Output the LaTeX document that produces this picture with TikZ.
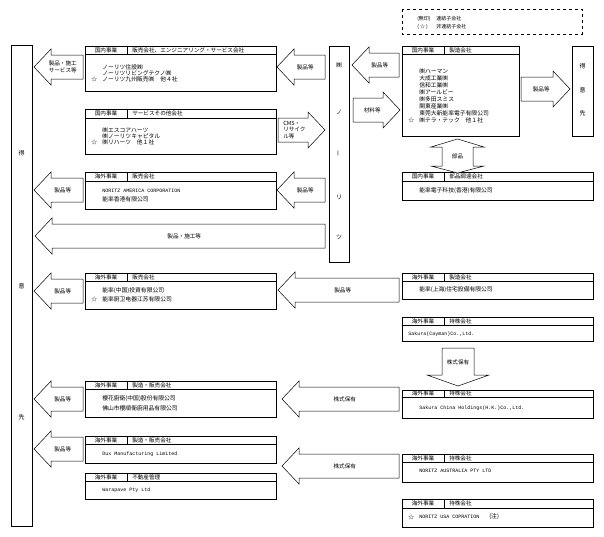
\documentclass[tikz,border=0pt]{standalone}
\usepackage{fontspec}
\setmainfont{Liberation Serif}
\newfontfamily\jp{Noto Sans CJK JP}
\newfontfamily\en{Liberation Mono}
\usetikzlibrary{positioning}

\tikzset{
  frame/.style={draw,line width=0.5pt},
  hdr/.style={font=\jp\fontsize{5.6}{6}\selectfont,inner sep=0pt,anchor=west},
  txt/.style={font=\jp\fontsize{5.8}{6}\selectfont,inner sep=0pt,anchor=west},
  etxt/.style={font=\en\fontsize{5}{6}\selectfont,inner sep=0pt,anchor=west},
  ltxt/.style={font=\jp\fontsize{5}{6}\selectfont,inner sep=0pt,anchor=west},
  barrow/.style={draw,line width=0.5pt,fill=white},
  alabel/.style={font=\jp\fontsize{5.6}{6.8}\selectfont,inner sep=0pt,align=center},
  bartxt/.style={font=\jp\fontsize{6}{7}\selectfont,inner sep=0pt}
}

% box with a two-part header
\newcommand{\bizbox}[9]{%
  \draw[frame] (#2,#3) rectangle (#4,#6);
  \draw[frame] (#2,#5) -- (#4,#5) (#7,#3) -- (#7,#5);
  \node[hdr,anchor=center] (#1-a) at ({(#2+#7)/2},{(#3+#5)/2}) {#8};
  \node[hdr] (#1-b) at (#7+5,{(#3+#5)/2}) {#9};
}
% hollow block arrow: tip x, tail x, y, name, label
\newcommand{\harr}[5]{%
  \pgfmathsetmacro\hb{#1+17*sign(#2-#1)}
  \draw[barrow] (#1,#3) -- (\hb,#3-18) -- (\hb,#3-12) -- (#2,#3-12)
    -- (#2,#3+12) -- (\hb,#3+12) -- (\hb,#3+18) -- cycle;
  \node[alabel] (#4) at ({(#1+#2)/2+0.25*(\hb-#1)},#3) {#5};
}

\begin{document}
\begin{tikzpicture}[x=1pt,y=-1pt,line width=0.5pt]
\useasboundingbox (0,0) rectangle (604,536);

% legend
\draw[dashed,line width=0.4pt] (402,9) rectangle (582,34);
\node[ltxt] (lg1) at (417,19) {(無印)};
\node[ltxt] (lg2) at (436,19) {連結子会社};
\node[ltxt] (lg3) at (417,27) {(\ ☆\ )};
\node[ltxt] (lg4) at (436,27) {非連結子会社};

% customers and parent
\draw[frame] (11,45) rectangle (32,526);
\node[bartxt] (c1) at (21.5,153) {得};
\node[bartxt] (c2) at (21.5,286) {意};
\node[bartxt] (c3) at (21.5,417) {先};
\draw[frame] (329,46) rectangle (349,262);
\node[bartxt] (p1) at (339,65) {㈱};
\node[bartxt] (p2) at (339,112) {ノ};
\node[bartxt,rotate=90] (p3) at (339,153) {ー};
\node[bartxt] (p4) at (339,197) {リ};
\node[bartxt] (p5) at (339,237) {ツ};
\draw[frame] (572,46) rectangle (593,136);
\node[bartxt] (d1) at (582.5,66) {得};
\node[bartxt] (d2) at (582.5,90) {意};
\node[bartxt] (d3) at (582.5,113) {先};

% left column
\bizbox{b1}{85}{46}{276}{54}{91}{127}{国内事業}{販売会社、エンジニアリング・サービス会社}
\node[txt] (b1-1) at (102,67) {ノーリツ住設㈱};
\node[txt] (b1-2) at (102,73) {ノーリツリビングテクノ㈱};
\node[txt] (b1-3) at (102,79) {ノーリツ九州販売㈱　他４社};
\node[txt] (b1-s) at (91,79) {☆};

\bizbox{b2}{85}{109}{276}{118}{154}{127}{国内事業}{サービスその他会社}
\node[txt] (b2-1) at (102,130) {㈱エスコアハーツ};
\node[txt] (b2-2) at (102,136) {㈱ノーリツキャピタル};
\node[txt] (b2-3) at (102,142) {㈱リハーツ　他１社};
\node[txt] (b2-s) at (91,142) {☆};

\bizbox{b3}{85}{172}{276}{181}{209}{127}{海外事業}{販売会社}
\node[etxt] (b3-1) at (102,191) {NORITZ AMERICA CORPORATION};
\node[txt] (b3-2) at (102,199) {能率香港有限公司};

\bizbox{b4}{85}{273}{276}{281}{309}{127}{海外事業}{販売会社}
\node[txt] (b4-1) at (102,291) {能率(中国)投資有限公司};
\node[txt] (b4-2) at (102,299) {能率厨卫电器江苏有限公司};
\node[txt] (b4-s) at (91,299) {☆};

\bizbox{b5}{85}{381}{276}{389}{417}{127}{海外事業}{製造・販売会社}
\node[txt] (b5-1) at (102,399) {櫻花廚衛(中国)股份有限公司};
\node[txt] (b5-2) at (102,408) {佛山市櫻順衛廚用品有限公司};

\bizbox{b6}{85}{436}{276}{444}{463}{127}{海外事業}{製造・販売会社}
\node[etxt] (b6-1) at (102,454) {Dux Manufacturing Limited};

\bizbox{b7}{85}{473}{276}{481}{499}{127}{海外事業}{不動産管理}
\node[etxt] (b7-1) at (102,490) {Warapave Pty Ltd};

% right column
\bizbox{r1}{402}{46}{519}{54}{136}{444}{国内事業}{製造会社}
\node[txt] (r1-1) at (419,71) {㈱ハーマン};
\node[txt] (r1-2) at (419,78) {大成工業㈱};
\node[txt] (r1-3) at (419,85) {信和工業㈱};
\node[txt] (r1-4) at (419,92) {㈱アールビー};
\node[txt] (r1-5) at (419,99) {㈱多田スミス};
\node[txt] (r1-6) at (419,106) {関東産業㈱};
\node[txt] (r1-7) at (419,113) {東莞大新能率電子有限公司};
\node[txt] (r1-8) at (419,120) {㈱テラ・テック　他１社};
\node[txt] (r1-s) at (408,120) {☆};

\bizbox{r2}{402}{172}{593}{181}{200}{444}{国内事業}{部品調達会社}
\node[txt] (r2-1) at (419,191) {能率電子科技(香港)有限公司};

\bizbox{r3}{402}{273}{593}{281}{299}{444}{海外事業}{製造会社}
\node[txt] (r3-1) at (419,290) {能率(上海)住宅設備有限公司};

\bizbox{r4}{402}{317}{593}{325}{341}{444}{海外事業}{持株会社}
\node[etxt] (r4-1) at (408,334) {Sakura(Cayman)Co.,Ltd.};

\bizbox{r5}{402}{390}{593}{397}{418}{444}{海外事業}{持株会社}
\node[etxt] (r5-1) at (419,408) {Sakura China Holdings(H.K.)Co.,Ltd.};

\bizbox{r6}{402}{454}{593}{462}{482}{444}{海外事業}{持株会社}
\node[etxt] (r6-1) at (419,471) {NORITZ AUSTRALIA PTY LTD};

\bizbox{r7}{402}{499}{593}{508}{527}{444}{海外事業}{持株会社}
\node[txt] (r7-s) at (408,517) {☆};
\node[etxt] (r7-1) at (419,517) {NORITZ USA COPRATION};
\node[txt] (r7-2) at (489,517) {(注)};

% flows to the customers
\harr{34}{83}{67}{f1}{製品・施工\\サービス等}
\harr{34}{83}{190}{f3}{製品等}
\harr{35}{325}{236}{f0}{製品・施工等}
\harr{34}{83}{291}{f4}{製品等}
\harr{34}{83}{399}{f5}{製品等}
\harr{34}{83}{449}{f6}{製品等}

% flows from the parent
\harr{277}{325}{67}{g1}{製品等}
\harr{325}{278}{130}{g2}{}
\node[alabel,align=left,anchor=west] (g2t) at (283,130) {CMS・\\リサイク\\ル等};
\harr{277}{325}{190}{g3}{製品等}

% right hand flows
\harr{352}{399}{65}{h1}{製品等}
\harr{400}{353}{110}{h2}{材料等}
\harr{570}{521}{89}{h3}{製品等}
\harr{278}{399}{290}{h4}{製品等}
\harr{282}{399}{399}{h5}{株式保有}
\harr{282}{399}{466}{h6}{株式保有}

% parts, both ways
\draw[barrow] (457.5,139) -- (484,147) -- (473,147) -- (473,166) -- (484,166)
  -- (457.5,173) -- (431,166) -- (442,166) -- (442,147) -- (431,147) -- cycle;
\node[alabel] (v1) at (457.5,156) {部品};

% shares held
\draw[barrow] (442,348) -- (474,348) -- (474,375) -- (489,375) -- (458,386)
  -- (427,375) -- (442,375) -- cycle;
\node[alabel] (v2) at (458,362) {株式保有};
\end{tikzpicture}
\end{document}
